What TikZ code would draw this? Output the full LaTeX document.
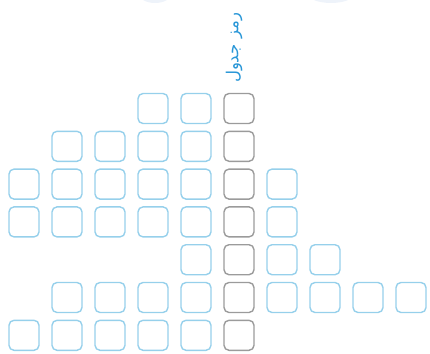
\documentclass[tikz,border=0pt]{standalone}
\usepackage{fontspec}
\newfontfamily\persianfont[Script=Arabic]{DejaVu Sans}
\TeXXeTstate=1
\definecolor{cellblue}{RGB}{150,208,235}
\definecolor{cellgray}{RGB}{155,155,155}
\definecolor{titleblue}{RGB}{40,150,215}
\definecolor{faint}{RGB}{238,243,250}
\tikzset{
  cellb/.style={draw=cellblue, line width=1.4pt, rounded corners=5pt, minimum width=30pt, minimum height=30pt, inner sep=0pt},
  cellg/.style={draw=cellgray, line width=1.4pt, rounded corners=5pt, minimum width=30pt, minimum height=30pt, inner sep=0pt},
}
\begin{document}
\begin{tikzpicture}[x=1pt,y=-1pt]
\useasboundingbox (0,0) rectangle (430,353);
\begin{scope}
\clip (0,0) rectangle (430,353);
\fill[faint] (155,-6) ellipse (16pt and 9pt);
\fill[faint] (331,-6) ellipse (23pt and 9pt);
\end{scope}
\foreach \r/\cl in {0/{3,4},1/{1,2,3,4},2/{0,1,2,3,4,6},3/{0,1,2,3,4,6},4/{4,6,7},5/{1,2,3,4,6,7,8,9},6/{0,1,2,3,4}}{
  \foreach \c in \cl {
    \node[cellb] (b-\r-\c) at ({24+43*\c},{108.5+37.8*\r}) {};
  }
  \node[cellg] (g-\r) at ({24+43*5},{108.5+37.8*\r}) {};
}
\node[rotate=90, text=titleblue, inner sep=0pt, font=\persianfont\fontsize{16.5}{19}\selectfont] (title) at (234,48) {\beginR رمز جدول\endR};
\end{tikzpicture}
\end{document}
